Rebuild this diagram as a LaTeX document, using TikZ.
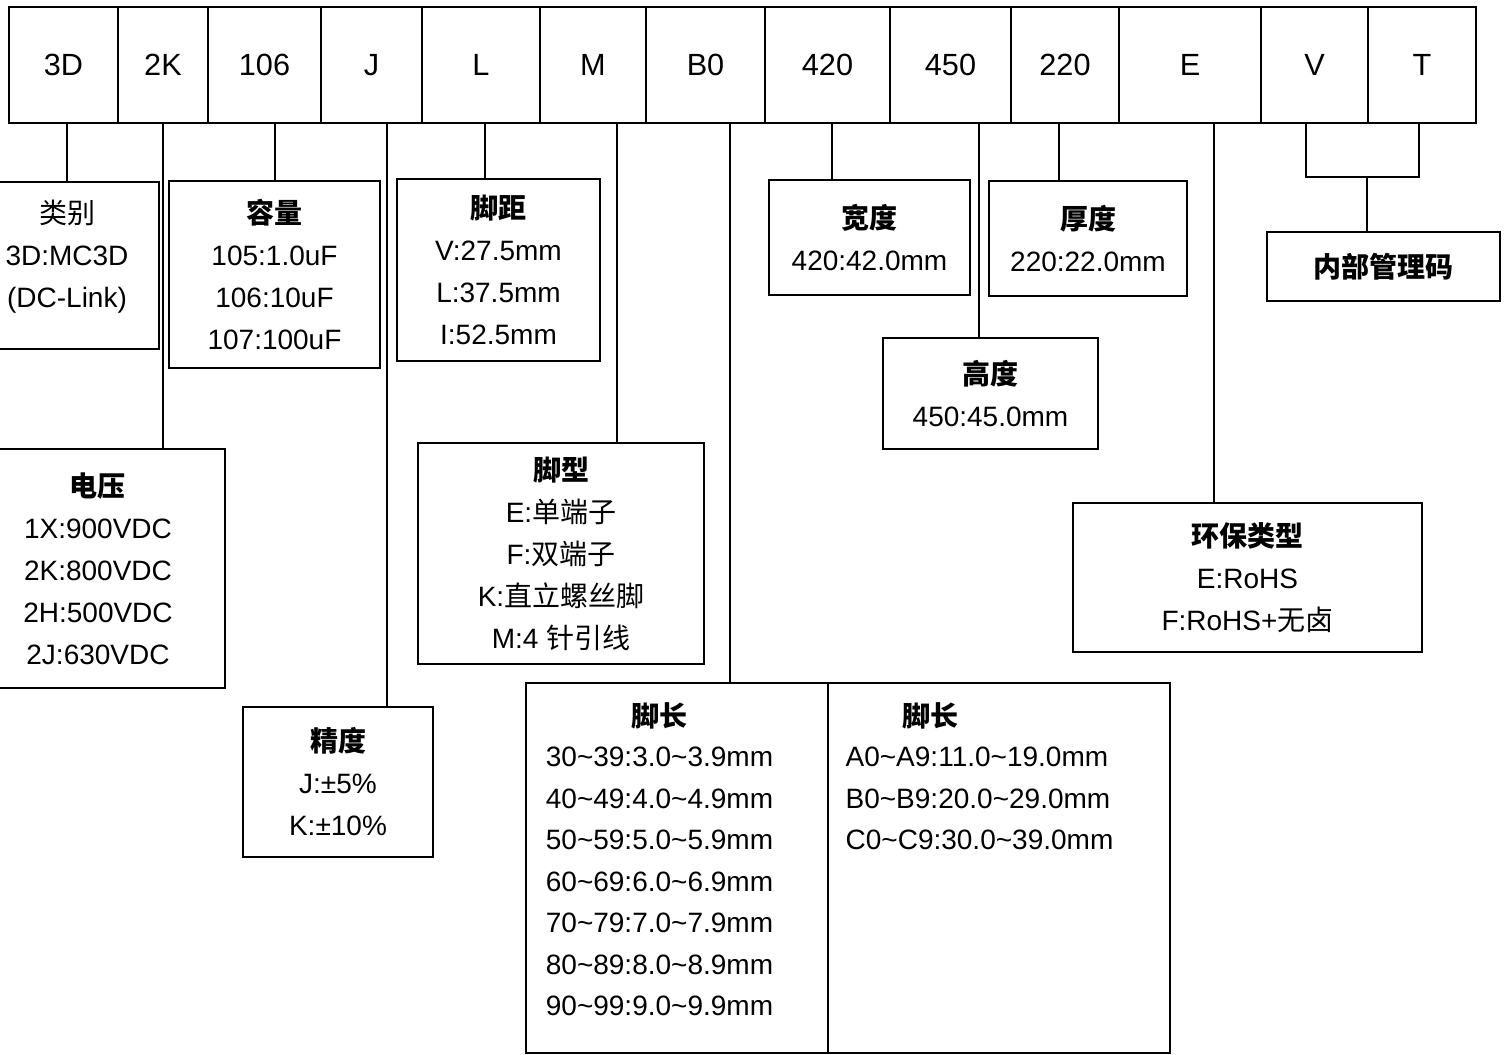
\documentclass[tikz,border=0pt]{standalone}
\usepackage{fontspec}
\setmainfont{Liberation Sans}
\newfontfamily\cjk{Noto Sans CJK SC}
\usetikzlibrary{positioning}
\newcommand{\wave}{\textasciitilde}
\tikzstyle{cell}=[draw, line width=1.5pt, inner sep=0pt, outer sep=0pt, minimum height=87pt, font=\fontsize{23}{28}\selectfont]
\tikzstyle{box}=[draw, line width=1.5pt, inner sep=0pt, outer sep=0pt, align=center, font=\fontsize{21}{31.5}\selectfont]
\tikzstyle{txt}=[inner sep=0pt, font=\fontsize{21}{31.1}\selectfont]
\tikzstyle{wire}=[draw, line width=1.5pt]

\begin{document}
\begin{tikzpicture}[x=0.75pt, y=-0.75pt]
\useasboundingbox (0,0) rectangle (1504,1055);
% the code row
\foreach \n/\l/\r/\t in {cat/9/118/3D, volt/118/208/2K, cap/208/321/106, tol/321/422/J,
  pitch/422/540/L, ptype/540/646/M, plen/646/765/B0, wid/765/890/420, hgt/890/1011/450,
  thk/1011/1119/220, env/1119/1261/E, ia/1261/1368/V, ib/1368/1476/T}
\node[cell, minimum width={(\r-\l)*0.75pt}] (\n) at ({(\l+\r)/2},65) {\t};

% the boxes below
\node[box, minimum width=138pt, minimum height=125.25pt] (kind) at (67,265.5)
  {{\cjk 类别}\\3D:MC3D\\(DC-Link)\\[-13.5pt]\mbox{}};
\node[box, minimum width=158.25pt, minimum height=140.25pt] (capbox) at (274.5,274.5)
  {\textbf{\cjk 容量}\\105:1.0uF\\106:10uF\\107:100uF};
\node[box, minimum width=152.25pt, minimum height=136.5pt] (pitchbox) at (498.5,270)
  {\textbf{\cjk 脚距}\\V:27.5mm\\L:37.5mm\\I:52.5mm};
\node[box, minimum width=150.75pt, minimum height=86.25pt] (widbox) at (869.5,237.5)
  {\textbf{\cjk 宽度}\\420:42.0mm};
\node[box, minimum width=148.5pt, minimum height=86.25pt] (thkbox) at (1088,238.5)
  {\textbf{\cjk 厚度}\\220:22.0mm};
\node[box, minimum width=161.25pt, minimum height=83.25pt] (hgtbox) at (990.5,393.5)
  {\textbf{\cjk 高度}\\450:45.0mm};
\node[box, minimum width=174.75pt, minimum height=51.75pt] (codebox) at (1383.5,266.5)
  {\textbf{\cjk 内部管理码}};
\node[box, minimum width=190.5pt, minimum height=179.25pt] (voltbox) at (98,568.5)
  {\textbf{\cjk 电压}\\1X:900VDC\\2K:800VDC\\2H:500VDC\\2J:630VDC};
\node[box, minimum width=214.5pt, minimum height=165.75pt] (typebox) at (561,553.5)
  {\textbf{\cjk 脚型}\\E:{\cjk 单端子}\\F:{\cjk 双端子}\\K:{\cjk 直立螺丝脚}\\M:4 {\cjk 针引线}};
\node[box, minimum width=142.5pt, minimum height=112.5pt] (tolbox) at (338,782)
  {\textbf{\cjk 精度}\\J:±5\%\\K:±10\%};
\node[box, minimum width=261.75pt, minimum height=111.75pt] (envbox) at (1247.5,577.5)
  {\textbf{\cjk 环保类型}\\E:RoHS\\F:RoHS+{\cjk 无卤}};
\node[box, minimum width=226.5pt, minimum height=277.5pt] (lenA) at (677,868) {};
\node[box, minimum width=256.5pt, minimum height=277.5pt] (lenB) at (999,868) {};
\node[txt] (lenAt) at (659,716) {\textbf{\cjk 脚长}};
\node[txt, align=left] (lenAl) at (659.5,881.5) {30\wave39:3.0\wave3.9mm\\40\wave49:4.0\wave4.9mm\\
  50\wave59:5.0\wave5.9mm\\60\wave69:6.0\wave6.9mm\\70\wave79:7.0\wave7.9mm\\
  80\wave89:8.0\wave8.9mm\\90\wave99:9.0\wave9.9mm};
\node[txt] (lenBt) at (930,716) {\textbf{\cjk 脚长}};
\node[txt, align=left] (lenBl) at (979.5,798.5) {A0\wave A9:11.0\wave19.0mm\\
  B0\wave B9:20.0\wave29.0mm\\C0\wave C9:30.0\wave39.0mm};

% connectors
\coordinate (tolx) at ([xshift=11.5pt]tol.south);
\coordinate (pitchx) at ([xshift=3pt]pitch.south);
\coordinate (ptypex) at ([xshift=18pt]ptype.south);
\coordinate (plenx) at ([xshift=18.4pt]plen.south);
\coordinate (widx) at ([xshift=3.4pt]wid.south);
\coordinate (hgtx) at ([xshift=21.4pt]hgt.south);
\coordinate (thkx) at ([xshift=-4.5pt]thk.south);
\coordinate (envx) at ([xshift=18pt]env.south);
\coordinate (iax) at ([xshift=-6.4pt]ia.south);
\coordinate (ibx) at ([xshift=-2.2pt]ib.south);
\coordinate (join) at (1367,177);
\draw[wire] (kind.north) -- (kind.north |- cat.south);
\draw[wire] (volt.south) -- (volt.south |- voltbox.north);
\draw[wire] (capbox.north) -- (capbox.north |- cap.south);
\draw[wire] (tolx) -- (tolx |- tolbox.north);
\draw[wire] (pitchx) -- (pitchx |- pitchbox.north);
\draw[wire] (ptypex) -- (ptypex |- typebox.north);
\draw[wire] (plenx) -- (plenx |- lenA.north);
\draw[wire] (widx) -- (widx |- widbox.north);
\draw[wire] (hgtx) -- (hgtx |- hgtbox.north);
\draw[wire] (thkx) -- (thkx |- thkbox.north);
\draw[wire] (envx) -- (envx |- envbox.north);
\draw[wire] (iax) -- (iax |- join) -- (ibx |- join) -- (ibx);
\draw[wire] (join) -- (join |- codebox.north);
\end{tikzpicture}
\end{document}
